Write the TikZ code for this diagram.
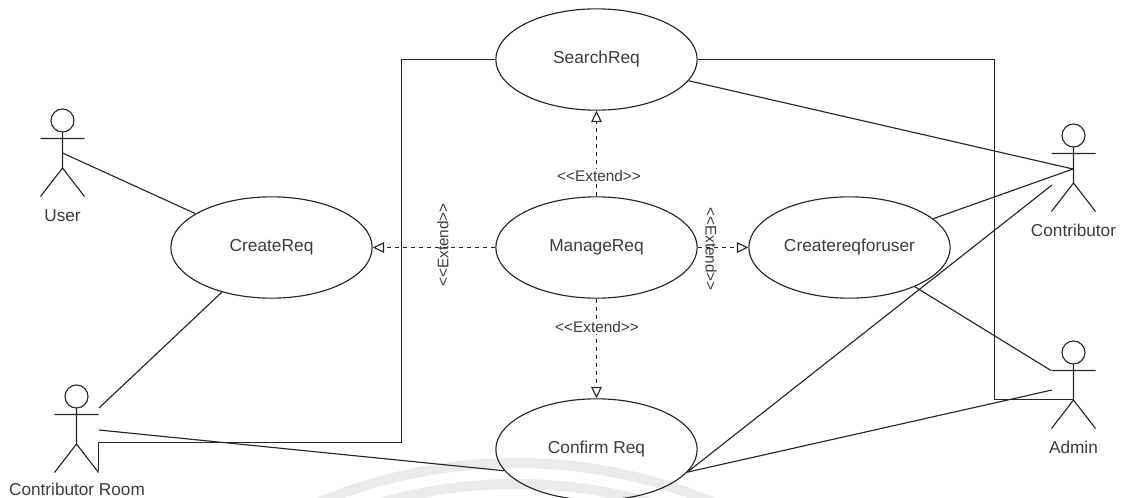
\documentclass[tikz,border=0pt]{standalone}
\usepackage{fontspec}
\setmainfont{Liberation Sans}
\usetikzlibrary{arrows.meta,shapes.geometric}
\definecolor{txt}{HTML}{3C3C3C}
\definecolor{mark}{HTML}{EBEBEB}
\tikzset{
  case/.style={ellipse,draw=black!85,line width=.85pt,minimum width=151pt,minimum height=76pt,inner sep=0pt,text=txt,font=\fontsize{13}{15}\selectfont},
  lbl/.style={text=txt,inner sep=0pt,font=\fontsize{11.5}{13}\selectfont},
  actorname/.style={text=txt,inner sep=0pt,font=\fontsize{12.9}{15}\selectfont},
  link/.style={draw=black!85,line width=.85pt},
  ext/.style={draw=black!85,line width=.85pt,dash pattern=on 3pt off 3pt,-{Triangle[open,length=8.5pt,width=8pt,line width=.85pt]}},
  band/.style={draw=mark,line width=7.5pt},
  actor/.pic={
    \draw[link] (0,-18) circle[radius=11.5];
    \draw[link] (0,-6.5) -- (0,29.5) (-22,0) -- (22,0) (-22,58) -- (0,29.5) -- (22,58);
  }
}
\begin{document}
\begin{tikzpicture}[x=.75pt,y=-.75pt]
\useasboundingbox (0,0) rectangle (1122,497);
\begin{scope}
\clip (0,0) rectangle (1122,497);
\draw[band] (516,975) circle[radius=512];
\draw[band] (516,975) circle[radius=491];
\end{scope}

\node[case] (search) at (596.5,59.5) {SearchReq};
\node[case] (create) at (271.5,247.5) {CreateReq};
\node[case] (manage) at (596.5,247.5) {ManageReq};
\node[case] (foruser) at (849.5,247.5) {Createreqforuser};
\node[case] (confirm) at (596.5,449.5) {Confirm Req};

\pic at (62.5,138.5) {actor};
\pic at (76.5,414.5) {actor};
\pic at (1073.5,153.5) {actor};
\pic at (1073.5,370.5) {actor};

\node[actorname] (userlabel) at (62.5,216) {User};
\node[actorname] (roomlabel) at (77,489) {Contributor Room};
\node[actorname] (contlabel) at (1073.5,230) {Contributor};
\node[actorname] (adminlabel) at (1073.5,447) {Admin};

\coordinate (userpt) at (62.5,153);
\coordinate (roomA) at (99,408);
\coordinate (roomB) at (99,430);
\coordinate (roomC) at (98.5,471);
\coordinate (elbowA) at (401.5,442.5);
\coordinate (elbowB) at (98.5,442.5);
\coordinate (elbowE) at (401.5,59.5);
\coordinate (contA) at (1073,169);
\coordinate (contB) at (1052,185);
\coordinate (adminA) at (1051,370.5);
\coordinate (adminB) at (1052,390);
\coordinate (adminC) at (1073.5,399.5);
\coordinate (elbowC) at (994.5,59.5);
\coordinate (elbowD) at (994.5,399.5);

\draw[link] (userpt) -- (create.156);
\draw[link] (roomA) -- (create.222.6);
\draw[link] (roomB) -- (confirm.193);
\draw[link] (search.west) -- (elbowE) -- (elbowA) -- (elbowB) -- (roomC);
\draw[link] (search.east) -- (elbowC) -- (elbowD) -- (adminC);
\draw[link] (search.-13) -- (contA);
\draw[link] (foruser.19.6) -- (contA);
\draw[link] (confirm.-14) -- (contB);
\draw[link] (confirm.-14) -- (adminB);
\draw[link] (foruser.-31) -- (adminA);

\draw[ext] (manage.north) -- (search.south);
\draw[ext] (manage.south) -- (confirm.north);
\draw[ext] (manage.west) -- (create.east);
\draw[ext] (manage.east) -- (foruser.west);

\node[lbl,fill=white,inner sep=1pt] (ltop) at (599,176) {<{}<Extend>{}>};
\node[lbl,fill=white,inner sep=1pt] (lbot) at (597,327) {<{}<Extend>{}>};
\node[lbl,rotate=90] (lleft) at (443,245) {<{}<Extend>{}>};
\node[lbl,rotate=-90] (lright) at (711,249) {<{}<Extend>{}>};
\end{tikzpicture}
\end{document}
